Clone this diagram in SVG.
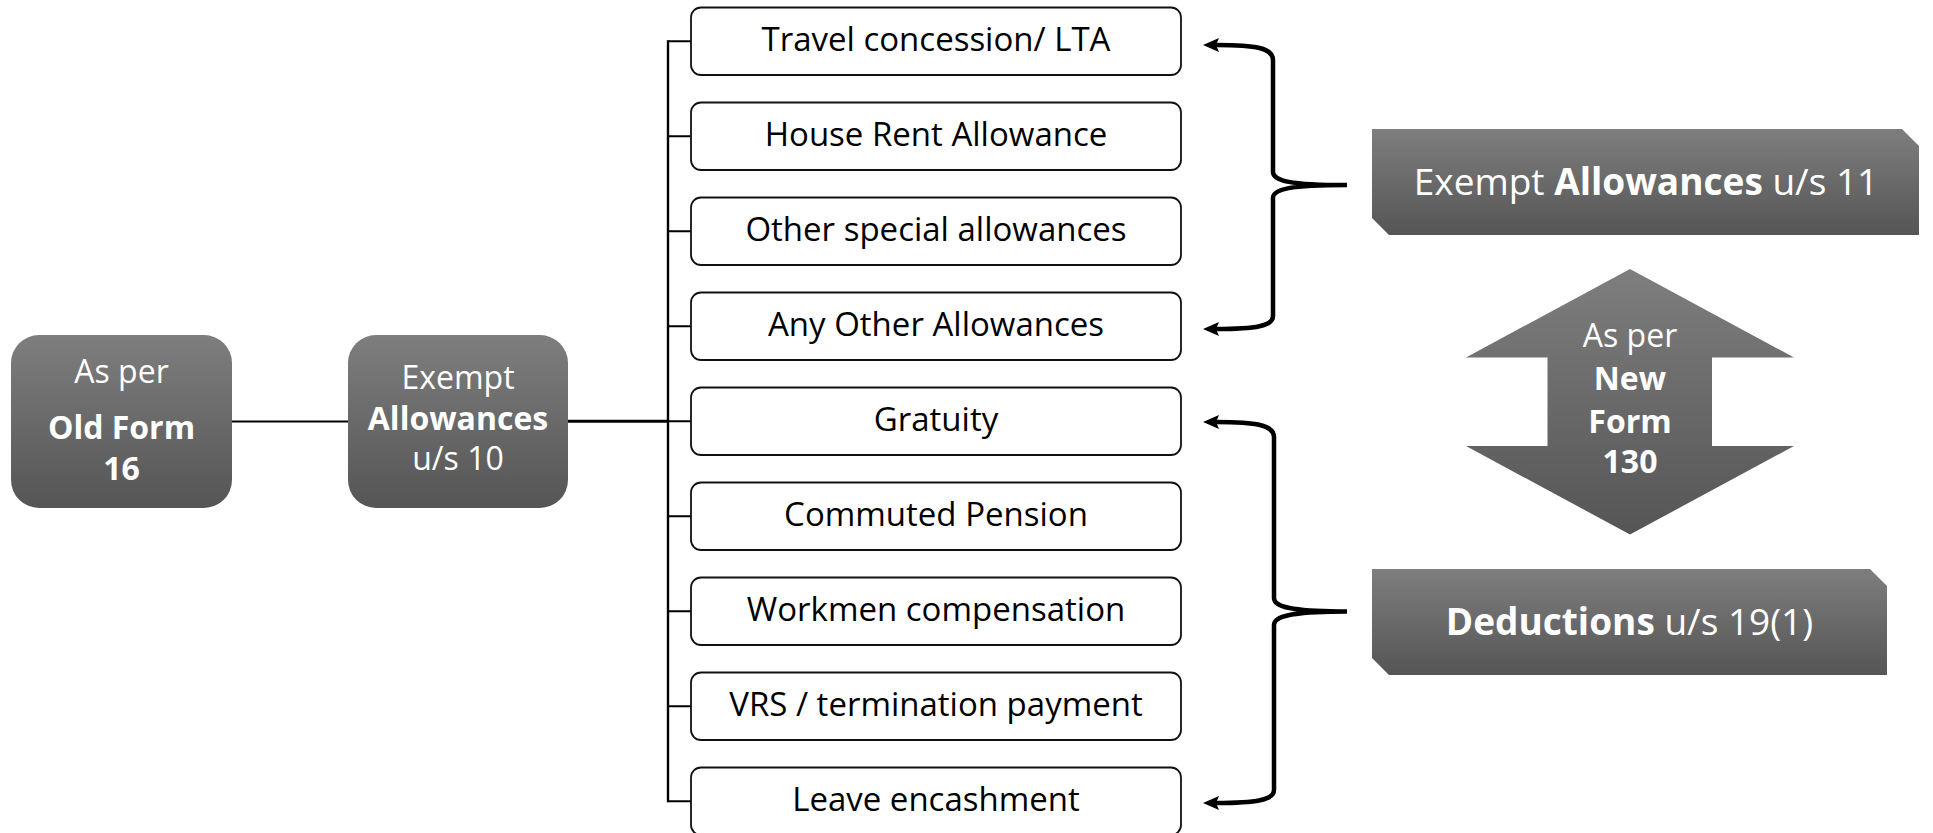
<svg xmlns="http://www.w3.org/2000/svg" width="1933" height="833" viewBox="0 0 1933 833">
<defs>
<linearGradient id="g" x1="0" y1="0" x2="0" y2="1">
<stop offset="0" stop-color="#7e7e7e"/>
<stop offset="1" stop-color="#555555"/>
</linearGradient>
<marker id="ah" markerUnits="userSpaceOnUse" markerWidth="17" markerHeight="16" viewBox="0 0 17 16" refX="3" refY="8" orient="auto-start-reverse">
<path d="M0,1 L16,8 L0,15 L3,8 z" fill="#000"/>
</marker>
<style>
.dark{fill:url(#g);}
.item{fill:#fff;stroke:#111;stroke-width:1.8;}
.t{font-family:"Open Sans","Noto Sans","DejaVu Sans",sans-serif;text-anchor:middle;}
.w{fill:#fff;font-size:32px;}
.k{fill:#000;font-size:33px;}
.b{font-weight:bold;}
.big{fill:#fff;font-size:37px;}
.ln{stroke:#000;fill:none;}
.brace{stroke:#000;stroke-width:4.5;fill:none;marker-start:url(#ah);marker-end:url(#ah);}
</style>
</defs>
<g id="connectors">
<line class="ln" x1="232" y1="421.5" x2="348" y2="421.5" stroke-width="2"/>
<line class="ln" x1="568" y1="421.3" x2="669" y2="421.3" stroke-width="3"/>
<line class="ln" x1="668" y1="40.2" x2="668" y2="802.3" stroke-width="2.4"/>
<path class="ln" stroke-width="2" d="M668,41.25H691 M668,136.25H691 M668,231.25H691 M668,326.25H691 M668,421.25H691 M668,516.25H691 M668,611.25H691 M668,706.25H691 M668,801.25H691"/>
<path class="brace" d="M1216,45 C1256,45 1273,48 1273,60 L1273,172 C1273,181 1290,185 1347,185 C1290,185 1273,189 1273,198 L1273,316 C1273,326 1256,329 1216,329"/>
<path class="brace" d="M1216,422 C1256,422 1274,425 1274,437 L1274,598 C1274,607 1291,611.5 1347,611.5 C1291,611.5 1274,616 1274,625 L1274,790 C1274,800 1256,803 1216,803"/>
</g>
<g id="old-form">
<rect class="dark" x="11" y="335" width="221" height="173" rx="28"/>
<text class="t w" x="121.5" y="382.7">As per</text>
<text class="t w b" x="121.5" y="439">Old Form</text>
<text class="t w b" x="121.5" y="479.5">16</text>
</g>
<g id="exempt-10">
<rect class="dark" x="348" y="335" width="220" height="173" rx="28"/>
<text class="t w" x="458" y="389">Exempt</text>
<text class="t w b" x="458" y="430">Allowances</text>
<text class="t w" x="458" y="470">u/s 10</text>
</g>
<g id="item-1"><rect class="item" x="691" y="7.5" width="490" height="67.5" rx="10"/><text class="t k" x="936" y="50.5">Travel concession/ LTA</text></g>
<g id="item-2"><rect class="item" x="691" y="102.5" width="490" height="67.5" rx="10"/><text class="t k" x="936" y="145.5">House Rent Allowance</text></g>
<g id="item-3"><rect class="item" x="691" y="197.5" width="490" height="67.5" rx="10"/><text class="t k" x="936" y="240.5">Other special allowances</text></g>
<g id="item-4"><rect class="item" x="691" y="292.5" width="490" height="67.5" rx="10"/><text class="t k" x="936" y="335.5">Any Other Allowances</text></g>
<g id="item-5"><rect class="item" x="691" y="387.5" width="490" height="67.5" rx="10"/><text class="t k" x="936" y="430.5">Gratuity</text></g>
<g id="item-6"><rect class="item" x="691" y="482.5" width="490" height="67.5" rx="10"/><text class="t k" x="936" y="525.5">Commuted Pension</text></g>
<g id="item-7"><rect class="item" x="691" y="577.5" width="490" height="67.5" rx="10"/><text class="t k" x="936" y="620.5">Workmen compensation</text></g>
<g id="item-8"><rect class="item" x="691" y="672.5" width="490" height="67.5" rx="10"/><text class="t k" x="936" y="715.5">VRS / termination payment</text></g>
<g id="item-9"><rect class="item" x="691" y="767.5" width="490" height="67.5" rx="10"/><text class="t k" x="936" y="810.5">Leave encashment</text></g>
<g id="exempt-11">
<polygon class="dark" points="1372,129 1902,129 1919,146 1919,235 1389,235 1372,218"/>
<text class="t big" x="1646" y="195">Exempt <tspan class="b">Allowances</tspan> u/s 11</text>
</g>
<g id="new-form-130">
<polygon class="dark" points="1630,269 1794,357.5 1712,357.5 1712,446 1794,446 1630,534.5 1466,446 1547.5,446 1547.5,357.5 1466,357.5"/>
<text class="t w" x="1630" y="346.7">As per</text>
<text class="t w b" x="1630" y="390">New</text>
<text class="t w b" x="1630" y="433.3">Form</text>
<text class="t w b" x="1630" y="472.7">130</text>
</g>
<g id="deductions">
<polygon class="dark" points="1372,569 1870,569 1887,586 1887,675 1389,675 1372,658"/>
<text class="t big" x="1629.5" y="635"><tspan class="b">Deductions</tspan> u/s 19(1)</text>
</g>
</svg>
